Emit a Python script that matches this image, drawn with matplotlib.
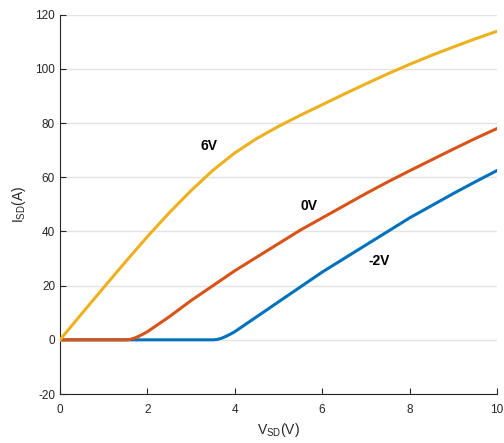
import matplotlib
matplotlib.use('Agg')
import matplotlib.pyplot as plt
from matplotlib.ticker import FuncFormatter

plt.rcParams['font.family'] = ['Liberation Sans', 'DejaVu Sans']
plt.rcParams['mathtext.default'] = 'regular'

# valores
v_6 = [0, 0.5, 1, 1.5, 2, 2.5, 3, 3.5, 4, 4.5, 5, 5.5, 6, 6.5, 7, 7.5, 8, 8.5, 9, 9.5, 10]
i_6 = [0, 9.7, 19.3, 28.8, 38.1, 46.9, 55.1, 62.6, 69.0, 74.3, 78.8, 82.9, 86.8, 90.7, 94.5,
       98.2, 101.7, 105.0, 108.1, 111.1, 113.9]

v_0 = [0, 1.5, 1.6, 1.7, 1.8, 1.9, 2, 2.5, 3, 3.5, 4, 4.5, 5, 5.5, 6, 6.5, 7, 7.5, 8, 8.5, 9, 9.5, 10]
i_0 = [0, 0, 0.15, 0.6, 1.3, 2.1, 3, 8.5, 14.5, 20, 25.5, 30.5, 35.5, 40.5, 45, 49.5, 54, 58.3,
       62.4, 66.4, 70.4, 74.3, 78]

v_m2 = [0, 3.5, 3.6, 3.7, 3.8, 3.9, 4, 4.5, 5, 5.5, 6, 6.5, 7, 7.5, 8, 8.5, 9, 9.5, 10]
i_m2 = [0, 0, 0.15, 0.6, 1.3, 2.1, 3, 8.5, 14, 19.5, 25, 30, 35, 40, 45, 49.5, 54, 58.3, 62.5]

rotulos = ['-2V', '0V', '6V']
pos_rotulos = [(7.3, 29), (5.7, 49.3), (3.42, 71.5)]

fig = plt.figure(figsize=(5.04, 4.43), dpi=100)
ax = fig.add_axes([0.119, 0.1106, 0.867, 0.856])

ax.plot(v_m2, i_m2, color='#0072BD', linewidth=2.2, zorder=3)
ax.plot(v_0, i_0, color='#D95319', linewidth=2.2, zorder=3)
ax.plot(v_6, i_6, color='#EDB120', linewidth=2.2, zorder=3)

for txt, (x, y) in zip(rotulos, pos_rotulos):
    ax.text(x, y, txt, fontsize=10, fontweight='bold', ha='center', va='center')

ax.set_xlim(0, 10)
ax.set_ylim(-20, 120)
ax.set_xticks(range(0, 11, 2))
ax.set_yticks(range(-20, 121, 20))
fmt = FuncFormatter(lambda v, p: '%d' % v)
ax.xaxis.set_major_formatter(fmt)
ax.yaxis.set_major_formatter(fmt)
ax.grid(axis='y', color='#e3e3e3', linewidth=1.0)
ax.set_axisbelow(True)

for s in ['top', 'right']:
    ax.spines[s].set_visible(False)
for s in ['left', 'bottom']:
    ax.spines[s].set_color('#262626')
    ax.spines[s].set_linewidth(0.8)

ax.tick_params(direction='in', length=4, width=0.8, colors='#262626', labelsize=8.5)
ax.tick_params(axis='x', pad=7)

ax.set_xlabel('V$_{SD}$(V)', fontsize=10, color='#262626', labelpad=4)
ax.set_ylabel('I$_{SD}$(A)', fontsize=10, color='#262626', labelpad=5)

plt.savefig('out.png', dpi=100)
